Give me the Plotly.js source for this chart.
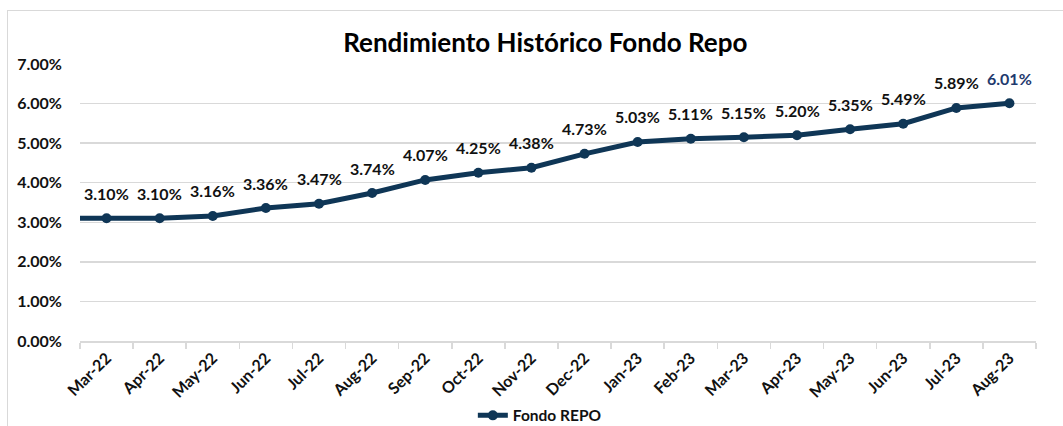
<!DOCTYPE html>
<html>
<head>
<meta charset="utf-8">
<script src="https://cdn.plot.ly/plotly-3.0.1.min.js"></script>
<style>
html,body{margin:0;padding:0;background:#fff;overflow:hidden;}
#wrap{position:relative;width:1063px;height:426px;}
#frame{position:absolute;left:7px;top:10px;width:1100px;height:500px;border:1px solid #d9d9d9;box-sizing:border-box;pointer-events:none;}
#chart{position:absolute;left:0;top:0;width:1063px;height:426px;}
</style>
</head>
<body>
<div id="wrap"><div id="frame"></div><div id="chart"></div></div>
<script>
// Data
const leadCategory = "Feb-22";   // prior month, only its line segment enters the plot edge
const leadValue = 0.0310;
const categories = ["Mar-22","Apr-22","May-22","Jun-22","Jul-22","Aug-22","Sep-22","Oct-22","Nov-22","Dec-22",
                    "Jan-23","Feb-23","Mar-23","Apr-23","May-23","Jun-23","Jul-23","Aug-23"];
const values = [0.0310,0.0310,0.0316,0.0336,0.0347,0.0374,0.0407,0.0425,0.0438,0.0473,
                0.0503,0.0511,0.0515,0.0520,0.0535,0.0549,0.0589,0.0601];
const seriesName = "Fondo REPO";
const chartTitle = "Rendimiento Histórico Fondo Repo";

const lineColor = "#0F3656";
const font = "Lato, 'Open Sans', sans-serif";

const xs = [leadCategory].concat(categories);
const ys = [leadValue].concat(values);

const annotations = categories.map((c, i) => ({
  x: c, y: values[i], xref: "x", yref: "y",
  text: (values[i] * 100).toFixed(2) + "%",
  showarrow: false, yanchor: "middle", yshift: 25,
  font: {family: font, size: 16, color: i === categories.length - 1 ? "#1F3A6E" : "#111111", weight: "bold"}
}));

const trace = {
  x: xs, y: ys, type: "scatter", mode: "lines+markers", name: seriesName,
  line: {color: lineColor, width: 5},
  marker: {color: lineColor, size: 10},
  cliponaxis: true, hoverinfo: "skip"
};

const layout = {
  width: 1063, height: 426,
  margin: {l: 80, r: 27, t: 64, b: 85, autoexpand: false},
  paper_bgcolor: "rgba(0,0,0,0)", plot_bgcolor: "rgba(0,0,0,0)",
  font: {family: font, color: "#111111"},
  title: {text: "<b>" + chartTitle + "</b>", x: 0.513, xanchor: "center", y: 0.9, yanchor: "middle",
          font: {family: font, size: 26, color: "#000000"}},
  xaxis: {
    type: "category", categoryorder: "array", categoryarray: xs,
    range: [0.5, xs.length - 0.5], fixedrange: true, automargin: false,
    showline: true, linecolor: "#d9d9d9", linewidth: 1.5,
    ticks: "outside", tickson: "boundaries", ticklen: 6, tickcolor: "#d9d9d9", tickwidth: 1.5,
    tickangle: -45, showgrid: false, zeroline: false,
    tickfont: {family: font, size: 16, color: "#111111", weight: "bold"}
  },
  yaxis: {
    range: [0, 0.07], dtick: 0.01, tickformat: ".2%", fixedrange: true, automargin: false,
    showline: false, ticks: "", gridcolor: "#d9d9d9", gridwidth: 1.5, zeroline: false,
    ticklabelstandoff: 17,
    tickfont: {family: font, size: 16, color: "#111111", weight: "bold"}
  },
  showlegend: true,
  legend: {orientation: "h", x: 0.481, xanchor: "center", y: -0.27, yanchor: "middle",
           font: {family: font, size: 15.5, color: "#111111", weight: "bold"}, bgcolor: "rgba(0,0,0,0)"},
  annotations: annotations
};

Plotly.newPlot("chart", [trace], layout, {displayModeBar: false, staticPlot: true});
</script>
</body>
</html>
